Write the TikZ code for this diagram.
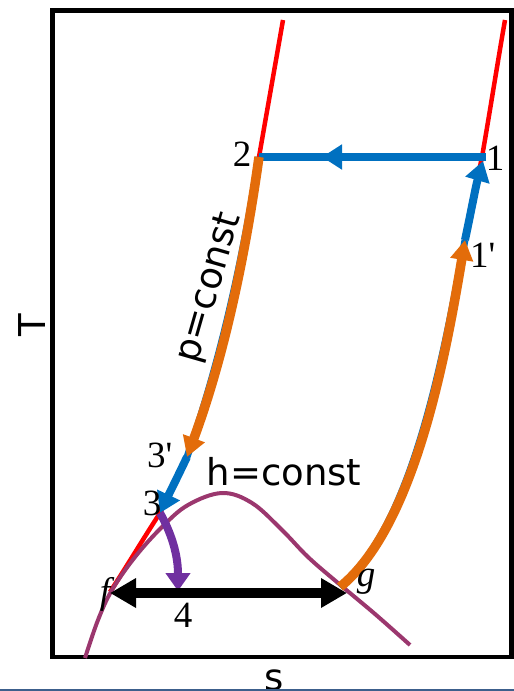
\documentclass[tikz,border=0pt]{standalone}
\usepackage{fontspec}
\setmainfont{Liberation Serif}[Ligatures=TeXOff]
\newfontfamily\sansf{DejaVu Sans}
\usetikzlibrary{arrows.meta}
\definecolor{cred}{RGB}{255,0,0}
\definecolor{cblue}{RGB}{0,112,192}
\definecolor{corange}{RGB}{227,108,10}
\definecolor{cdome}{RGB}{155,55,110}
\definecolor{cviolet}{RGB}{112,48,160}
\definecolor{csep}{RGB}{60,95,140}
\begin{document}
\begin{tikzpicture}[x=1pt,y=-1pt,
  frame/.style={line width=4.5pt},
  redline/.style={cred,line width=4.5pt},
  blueline/.style={cblue,line width=7pt},
  bluearrow/.style={cblue,line width=8pt,-{Triangle[length=20pt,width=24pt]}},
  orangearrow/.style={corange,line width=9.5pt,-{Triangle[length=20pt,width=22pt]}},
  domeline/.style={cdome,line width=4pt},
  violetarrow/.style={cviolet,line width=8pt,-{Triangle[length=18pt,width=24pt]}},
  blackarrow/.style={black,line width=10pt,{Triangle[length=26pt,width=28pt]}-{Triangle[length=26pt,width=28pt]}},
  lab/.style={inner sep=0pt,font=\fontsize{37}{42}\selectfont},
  sans/.style={inner sep=0pt,font=\sansf\fontsize{37}{44}\selectfont},
  sepline/.style={csep,line width=2pt}]
\useasboundingbox (0,0) rectangle (514,691);
% key points
\coordinate (L0) at (283,20);
\coordinate (p2) at (259,157);
\coordinate (p3p) at (187,457);
\coordinate (p3) at (160,513);
\coordinate (pf) at (110,592);
\coordinate (R0) at (505,20);
\coordinate (p1) at (482,157);
\coordinate (p1e) at (486,157);
\coordinate (p1t) at (483,161);
\coordinate (p1p) at (465,240);
\coordinate (pg) at (340,587);
\coordinate (pfA) at (110,593);
\coordinate (pgA) at (347,593);
\coordinate (p4) at (178,591);
\coordinate (mid12) at (322,157);
% frame
\draw[frame] (52.5,10.5) rectangle (511.5,657);
% red curves
\draw[redline] (L0) .. controls (275,66) and (267,111) .. (p2)
  .. controls (243,257) and (222,357) .. (p3p)
  .. controls (178,476) and (169,494) .. (p3)
  .. controls (143,539) and (127,566) .. (pf);
\draw[redline] (R0) .. controls (497,66) and (490,111) .. (p1)
  .. controls (476,185) and (471,212) .. (p1p)
  .. controls (443,360) and (412,527) .. (pg);
% dome
\draw[domeline] plot[smooth,tension=0.6] coordinates {(85,658) (98,620) (112,590) (135,557) (162,527) (188,505) (222,493) (252,503) (282,530) (308,557) (338,583) (375,614) (410,645)};
% blue process lines
\draw[blueline] (pg) .. controls (412,527) and (443,360) .. (p1p);
\draw[blueline] (p2) .. controls (243,257) and (222,357) .. (p3p);
\draw[blueline,line width=8pt] (p1e) -- (p2);
\draw[bluearrow] (p1e) -- (mid12);
\draw[bluearrow] (p1p) .. controls (471,212) and (476,185) .. (p1t);
\draw[bluearrow] (p3p) .. controls (178,476) and (169,494) .. (p3);
% orange process lines
\draw[orangearrow,xshift=2pt] (pg) .. controls (412,527) and (443,360) .. (p1p);
\draw[orangearrow,xshift=2pt] (p2) .. controls (243,257) and (222,357) .. (p3p);
% throttling and two-phase arrows
\draw[violetarrow] (p3) .. controls (168,527) and (178,550) .. (p4);
\draw[blackarrow] (pfA) -- (pgA);
% labels
\node[lab,anchor=base] (l2) at (242,166) {2};
\node[lab,anchor=base] (l1) at (495,170) {1};
\node[lab,anchor=base west] (l1p) at (470,267) {1'};
\node[lab,anchor=base west] (l3p) at (147,467) {3'};
\node[lab,anchor=base] (l3) at (152,515) {3};
\node[lab,anchor=base] (l4) at (183,627) {4};
\node[lab,anchor=base] (lf) at (105,603) {\itshape f};
\node[lab,anchor=base] (lg) at (366,586) {\itshape g};
\node[sans,anchor=base] (hc) at (284,485) {h=const};
\node[sans,rotate=74] (pc) at (210,288) {p=const};
\node[sans,rotate=90] (T) at (32,325) {T};
\node[sans,anchor=base] (s) at (274,690) {s};
\draw[sepline] (0,690) -- (514,690);
\end{tikzpicture}
\end{document}
